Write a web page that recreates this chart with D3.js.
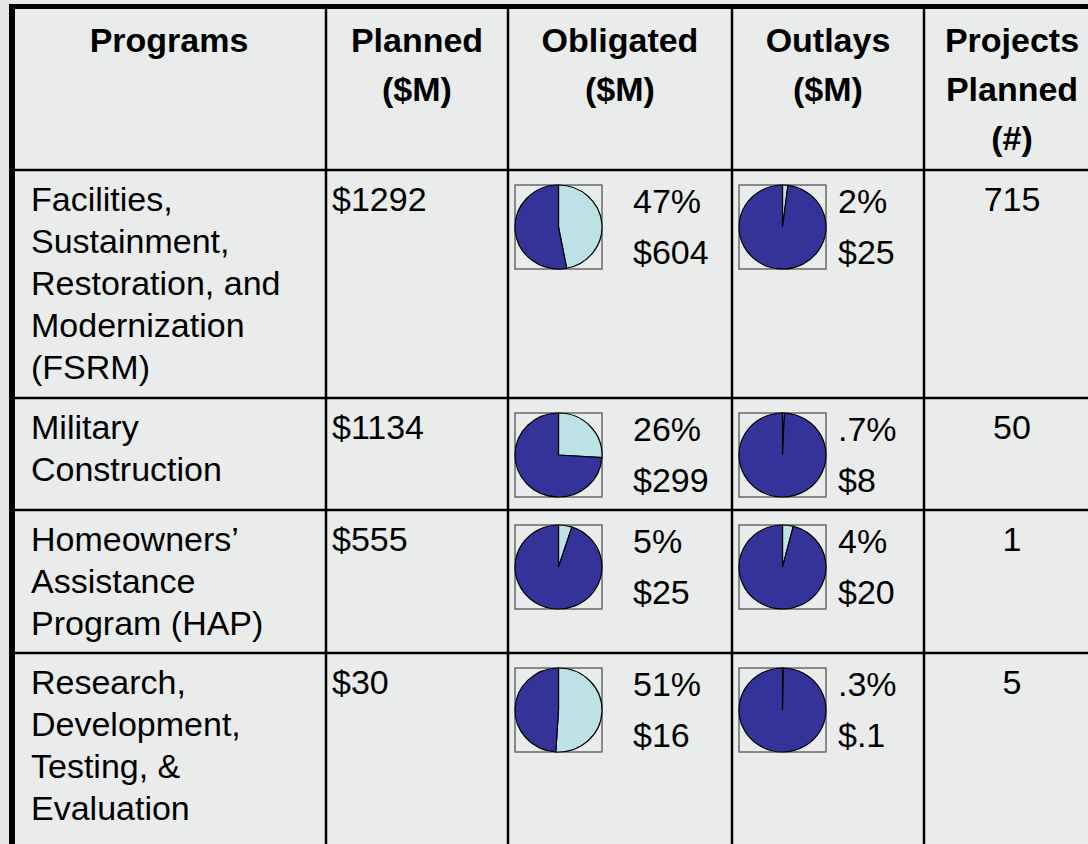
<!DOCTYPE html>
<html>
<head>
<meta charset="utf-8">
<script src="https://cdn.jsdelivr.net/npm/d3@7"></script>
<style>
  html, body { margin: 0; padding: 0; background: #e5e8e7; }
  svg { display: block; font-family: Arial, "Liberation Sans", sans-serif; }
</style>
</head>
<body>
<svg id="graphic-container" width="1088" height="844"></svg>
<script>
// ---- data ----
const headers = [
  ["Programs"],
  ["Planned", "($M)"],
  ["Obligated", "($M)"],
  ["Outlays", "($M)"],
  ["Projects", "Planned", "(#)"]
];
const programs = [
  ["Facilities,", "Sustainment,", "Restoration, and", "Modernization", "(FSRM)"],
  ["Military", "Construction"],
  ["Homeowners’", "Assistance", "Program (HAP)"],
  ["Research,", "Development,", "Testing, &", "Evaluation"]
];
const planned = [1292, 1134, 555, 30];
const obligatedPct = [47, 26, 5, 51];
const obligatedAmt = [604, 299, 25, 16];
const outlaysPct = [2, 0.7, 4, 0.3];
const outlaysAmt = [25, 8, 20, 0.1];
const projects = [715, 50, 1, 5];

// ---- layout ----
const width = 1088, height = 844;
const colEdges = [12, 326, 508, 732, 924, 1100];
const rowEdges = [6.5, 170, 398, 510, 653, 900];
const fontSize = 34, lineGap = 42, headGap = 49;
const darkBlue = "#333399", lightCyan = "#bde2e5";
const box = { dx: 7, dy: 15, w: 87, h: 84 };

const $svg = d3.select("#graphic-container");

// strip the leading zero the way the slide does (.7%, $.1)
const num = v => (v < 1 ? String(v).replace(/^0/, "") : String(v));
const pctFmt = v => num(v) + "%";
const usdFmt = v => "$" + num(v);

// background + table fill
$svg.append("rect").attr("width", width).attr("height", height).attr("fill", "#e4e7e6");
$svg.append("rect")
  .attr("x", colEdges[0]).attr("y", rowEdges[0])
  .attr("width", colEdges[5] - colEdges[0]).attr("height", height)
  .attr("fill", "#e9eceb");

// header
const headGroup = $svg.append("g").attr("id", "header");
headers.forEach((lines, c) => {
  const cx = (colEdges[c] + colEdges[c + 1]) / 2;
  headGroup.append("text")
    .attr("x", cx)
    .attr("text-anchor", "middle")
    .attr("font-weight", "bold")
    .attr("font-size", fontSize)
    .selectAll("tspan")
    .data(lines)
    .join("tspan")
    .attr("x", cx)
    .attr("y", (d, i) => 52 + i * headGap)
    .text(d => d);
});

// body rows
const pie = d3.pie().sort(null).value(d => d);
const arc = d3.arc().innerRadius(0).outerRadius(box.w / 2);

const body = $svg.append("g").attr("id", "body");
programs.forEach((lines, r) => {
  const top = rowEdges[r + 1];
  const g = body.append("g").attr("class", "row");

  g.append("text")
    .attr("font-size", fontSize)
    .selectAll("tspan")
    .data(lines)
    .join("tspan")
    .attr("x", colEdges[0] + 19)
    .attr("y", (d, i) => top + 41 + i * lineGap)
    .text(d => d);

  g.append("text")
    .attr("x", colEdges[1] + 6)
    .attr("y", top + 41)
    .attr("font-size", fontSize)
    .text(usdFmt(planned[r]));

  const pieCells = [
    { col: 2, pct: obligatedPct[r], amt: obligatedAmt[r], tx: 125 },
    { col: 3, pct: outlaysPct[r], amt: outlaysAmt[r], tx: 106 }
  ];
  pieCells.forEach(cell => {
    const bx = colEdges[cell.col] + box.dx, by = top + box.dy;
    g.append("rect")
      .attr("x", bx).attr("y", by)
      .attr("width", box.w).attr("height", box.h)
      .attr("fill", "none")
      .attr("stroke", "#555")
      .attr("stroke-width", 1.3);
    const pg = g.append("g")
      .attr("transform", `translate(${bx + box.w / 2},${by + box.h / 2}) scale(1,${box.h / box.w})`);
    pg.selectAll("path")
      .data(pie([cell.pct, 100 - cell.pct]))
      .join("path")
      .attr("d", arc)
      .attr("fill", (d, i) => (i === 0 ? lightCyan : darkBlue))
      .attr("stroke", "#000")
      .attr("stroke-width", 1.2)
      .attr("vector-effect", "non-scaling-stroke");
    g.append("text")
      .attr("x", colEdges[cell.col] + cell.tx)
      .attr("y", top + 43)
      .attr("font-size", fontSize)
      .text(pctFmt(cell.pct));
    g.append("text")
      .attr("x", colEdges[cell.col] + cell.tx)
      .attr("y", top + 94)
      .attr("font-size", fontSize)
      .text(usdFmt(cell.amt));
  });

  g.append("text")
    .attr("x", (colEdges[4] + colEdges[5]) / 2)
    .attr("y", top + 41)
    .attr("text-anchor", "middle")
    .attr("font-size", fontSize)
    .text(projects[r]);
});

// grid lines
const grid = $svg.append("g").attr("id", "grid").attr("stroke", "#000");
grid.selectAll("line.h")
  .data(rowEdges.slice(1, -1))
  .join("line")
  .attr("class", "h")
  .attr("x1", colEdges[0]).attr("x2", colEdges[5])
  .attr("y1", d => d).attr("y2", d => d)
  .attr("stroke-width", 2.5);
grid.selectAll("line.v")
  .data(colEdges.slice(1, -1))
  .join("line")
  .attr("class", "v")
  .attr("x1", d => d).attr("x2", d => d)
  .attr("y1", rowEdges[0]).attr("y2", height)
  .attr("stroke-width", 2.5);
// thick outer frame (top + left, the rest runs off the slide)
grid.append("line")
  .attr("x1", colEdges[0] - 3).attr("x2", colEdges[5])
  .attr("y1", rowEdges[0]).attr("y2", rowEdges[0])
  .attr("stroke-width", 5);
grid.append("line")
  .attr("x1", colEdges[0]).attr("x2", colEdges[0])
  .attr("y1", rowEdges[0] - 2.5).attr("y2", height)
  .attr("stroke-width", 6);
</script>
</body>
</html>
